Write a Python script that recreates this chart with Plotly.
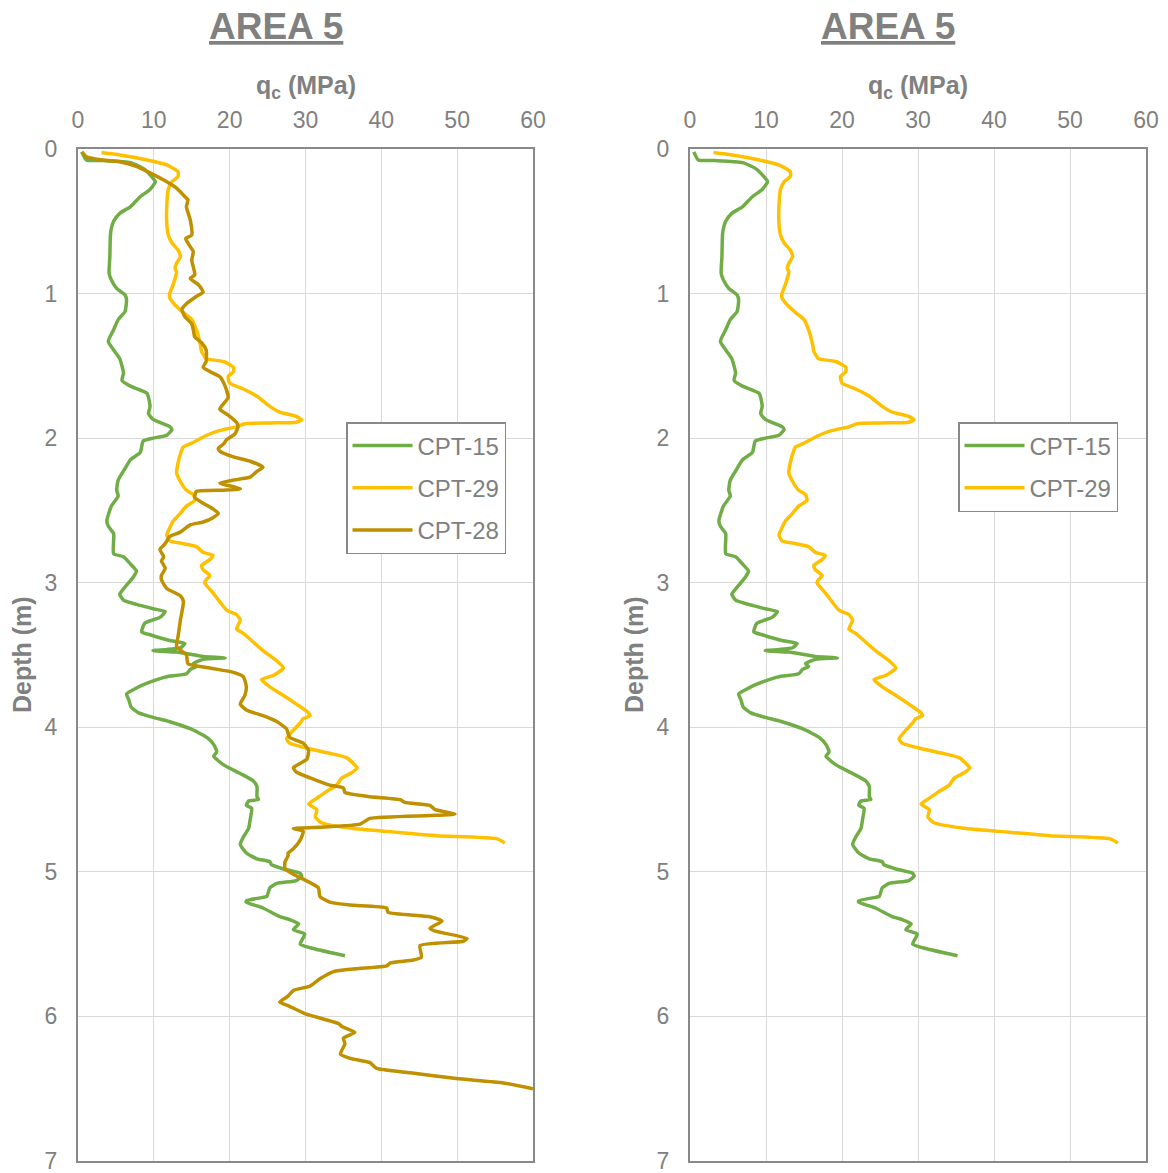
import plotly.graph_objects as go

# ---------------- data ----------------
cpt15_depth = [0.02, 0.076, 0.08, 0.094, 0.134, 0.19, 0.226, 0.28, 0.33, 0.40,
               0.445, 0.50, 0.58, 0.745, 0.86, 0.906, 0.964, 1.01, 1.045, 1.125,
               1.18, 1.25, 1.33, 1.39, 1.45, 1.55, 1.60, 1.64, 1.69, 1.78,
               1.83, 1.87, 1.92, 1.94, 1.98, 2.00, 2.02, 2.10, 2.15, 2.21,
               2.29, 2.36, 2.40, 2.47, 2.57, 2.61, 2.66, 2.80, 2.82, 2.87,
               2.92, 2.96, 3.03, 3.08, 3.12, 3.15, 3.18, 3.20, 3.24, 3.28,
               3.34, 3.36, 3.40, 3.42, 3.45, 3.47, 3.48, 3.51, 3.52, 3.53,
               3.56, 3.58, 3.60, 3.63, 3.65, 3.67, 3.71, 3.74, 3.77, 3.81,
               3.86, 3.90, 3.93, 3.96, 4.01, 4.07, 4.12, 4.17, 4.20, 4.26,
               4.32, 4.37, 4.41, 4.48, 4.50, 4.51, 4.54, 4.56, 4.64, 4.70,
               4.76, 4.81, 4.87, 4.91, 4.93, 4.95, 4.98, 5.01, 5.03, 5.06,
               5.08, 5.11, 5.17, 5.18, 5.20, 5.21, 5.25, 5.31, 5.33, 5.36,
               5.40, 5.43, 5.50, 5.53, 5.58]
cpt15_qc = [0.5, 1.1, 3.3, 6.9, 8.6, 9.7, 10.2, 9.5, 8.2, 6.9,
            5.5, 4.7, 4.3, 4.2, 4.1, 4.4, 5.1, 6.2, 6.4, 6.2,
            5.3, 4.7, 4.0, 4.7, 5.5, 6.0, 5.8, 6.9, 9.1, 9.5,
            9.3, 9.9, 12.1, 12.4, 11.7, 9.9, 8.6, 8.2, 6.9, 6.2,
            5.3, 5.1, 5.3, 4.4, 3.8, 4.0, 4.7, 4.7, 6.0, 6.9,
            7.7, 7.3, 6.2, 5.5, 6.0, 7.7, 9.9, 11.5, 10.8, 8.8,
            8.4, 9.5, 12.1, 14.1, 13.5, 9.9, 13.0, 16.5, 19.4, 16.5,
            15.2, 15.6, 14.8, 14.3, 11.7, 10.4, 8.4, 7.3, 6.4, 6.7,
            7.0, 8.0, 9.8, 12.0, 14.8, 17.0, 17.9, 18.3, 17.9, 19.2,
            21.4, 23.1, 23.6, 23.6, 23.8, 22.5, 22.2, 22.9, 22.7, 22.5,
            21.8, 21.4, 22.2, 23.6, 25.3, 25.5, 27.1, 29.3, 29.5, 28.8,
            26.2, 25.3, 24.9, 24.0, 22.2, 22.2, 24.4, 26.6, 27.9, 29.1,
            28.4, 29.9, 29.3, 31.0, 35.2]

cpt29_depth = [0.025, 0.042, 0.076, 0.11, 0.157, 0.19, 0.226, 0.28, 0.40, 0.51,
               0.595, 0.65, 0.70, 0.745, 0.79, 0.825, 0.85, 0.93, 1.00, 1.03,
               1.09, 1.14, 1.18, 1.25, 1.345, 1.40, 1.45, 1.47, 1.51, 1.54,
               1.575, 1.62, 1.66, 1.71, 1.78, 1.82, 1.85, 1.875, 1.89, 1.895,
               1.90, 1.92, 1.95, 1.98, 2.04, 2.06, 2.11, 2.17, 2.24, 2.30,
               2.36, 2.39, 2.43, 2.47, 2.52, 2.57, 2.62, 2.67, 2.71, 2.73,
               2.75, 2.79, 2.81, 2.84, 2.88, 2.91, 2.95, 2.98, 3.00, 3.07,
               3.19, 3.22, 3.26, 3.32, 3.35, 3.41, 3.47, 3.54, 3.59, 3.64,
               3.67, 3.72, 3.78, 3.84, 3.90, 3.92, 3.94, 3.97, 4.02, 4.08,
               4.11, 4.15, 4.18, 4.21, 4.25, 4.28, 4.32, 4.35, 4.40, 4.45,
               4.49, 4.53, 4.57, 4.62, 4.66, 4.70, 4.72, 4.75, 4.77, 4.80]
cpt29_qc = [3.1, 5.5, 9.1, 11.7, 13.2, 13.2, 12.4, 11.9, 11.7, 11.7,
            11.9, 12.4, 13.2, 13.5, 13.0, 12.8, 13.0, 12.6, 12.1, 12.1,
            13.0, 14.1, 15.0, 15.6, 16.1, 16.3, 16.9, 19.2, 20.5, 20.5,
            19.8, 20.0, 21.8, 23.6, 25.3, 26.6, 28.8, 29.5, 28.8, 25.3,
            22.0, 21.0, 18.5, 17.0, 14.8, 13.9, 13.5, 13.2, 13.0, 13.5,
            14.3, 15.2, 15.4, 14.3, 13.5, 12.6, 12.1, 11.7, 12.1, 13.9,
            15.6, 16.5, 17.8, 17.4, 16.3, 16.5, 17.4, 16.9, 16.7, 17.8,
            19.6, 20.9, 21.4, 20.9, 21.8, 23.1, 24.4, 26.2, 27.1, 25.8,
            24.2, 25.3, 27.1, 28.8, 30.4, 30.6, 29.7, 29.3, 28.4, 27.5,
            27.9, 30.6, 33.2, 35.4, 36.3, 36.8, 35.9, 34.8, 34.1, 32.6,
            31.5, 30.4, 31.5, 31.3, 32.1, 36.3, 40.7, 47.3, 55.2, 56.3]

cpt28_depth = [0.02, 0.053, 0.076, 0.088, 0.12, 0.17, 0.226, 0.27, 0.33, 0.35,
               0.40, 0.49, 0.595, 0.62, 0.675, 0.71, 0.77, 0.87, 0.895, 0.94,
               0.99, 1.02, 1.07, 1.11, 1.16, 1.21, 1.25, 1.30, 1.34, 1.39,
               1.47, 1.51, 1.54, 1.575, 1.64, 1.72, 1.78, 1.80, 1.84, 1.89,
               1.92, 1.97, 2.01, 2.04, 2.07, 2.09, 2.13, 2.16, 2.20, 2.23,
               2.27, 2.29, 2.31, 2.32, 2.35, 2.36, 2.37, 2.41, 2.45, 2.49,
               2.52, 2.55, 2.58, 2.60, 2.65, 2.68, 2.73, 2.77, 2.82, 2.85,
               2.90, 2.95, 2.98, 3.04, 3.09, 3.13, 3.26, 3.37, 3.44, 3.50,
               3.56, 3.59, 3.62, 3.65, 3.72, 3.78, 3.84, 3.88, 3.92, 3.96,
               4.01, 4.04, 4.07, 4.11, 4.16, 4.22, 4.25, 4.28, 4.31, 4.35,
               4.40, 4.42, 4.45, 4.48, 4.50, 4.52, 4.54, 4.57, 4.60, 4.61,
               4.63, 4.67, 4.69, 4.70, 4.72, 4.78, 4.84, 4.87, 4.89, 4.93,
               4.98, 5.02, 5.05, 5.11, 5.17, 5.21, 5.23, 5.25, 5.28, 5.31,
               5.34, 5.39, 5.41, 5.46, 5.48, 5.51, 5.59, 5.61, 5.63, 5.65,
               5.67, 5.69, 5.74, 5.79, 5.82, 5.86, 5.90, 5.93, 5.98, 6.05,
               6.07, 6.11, 6.15, 6.19, 6.26, 6.29, 6.32, 6.36, 6.39, 6.43,
               6.46, 6.50]
cpt28_qc = [0.5, 1.1, 3.3, 5.5, 7.7, 9.7, 11.7, 13.0, 14.1, 14.5,
            14.3, 14.8, 15.0, 14.2, 14.8, 15.2, 15.0, 15.4, 14.8, 15.9,
            16.5, 15.6, 14.3, 13.7, 14.1, 15.0, 15.2, 15.4, 16.3, 16.9,
            16.9, 16.5, 17.4, 18.7, 19.4, 19.8, 18.9, 18.7, 19.8, 20.9,
            21.1, 20.7, 19.6, 19.2, 18.5, 18.7, 20.5, 22.7, 24.4, 23.6,
            22.7, 20.5, 18.7, 19.2, 21.4, 19.2, 15.6, 15.4, 16.5, 17.8,
            18.5, 17.8, 16.5, 14.8, 13.5, 12.1, 11.5, 10.8, 11.3, 11.0,
            11.5, 11.0, 11.0, 11.7, 13.5, 13.9, 13.5, 13.2, 13.0, 14.3,
            14.5, 17.4, 20.5, 21.8, 22.2, 22.0, 21.4, 22.2, 24.4, 26.2,
            27.5, 27.7, 27.9, 29.7, 30.4, 30.2, 29.3, 28.4, 28.8, 30.6,
            33.2, 35.0, 35.2, 38.5, 42.5, 43.1, 46.4, 47.1, 49.7, 46.4,
            38.5, 37.2, 32.4, 28.4, 29.7, 29.3, 28.4, 27.7, 27.7, 27.3,
            27.3, 28.5, 29.7, 31.7, 31.9, 33.2, 35.9, 40.7, 40.9, 46.4,
            48.0, 46.4, 47.1, 51.3, 50.8, 45.1, 45.3, 44.2, 41.2, 40.7,
            36.7, 33.7, 31.9, 30.6, 28.4, 27.7, 26.6, 27.9, 29.9, 34.4,
            34.8, 36.5, 35.0, 35.2, 34.6, 35.9, 38.5, 39.4, 43.8, 49.9,
            56.1, 60.0]

x_ticks = [0, 10, 20, 30, 40, 50, 60]
y_ticks = [0, 1, 2, 3, 4, 5, 6, 7]
chart_title = "AREA 5"
x_title = "q<sub>c</sub> (MPa)"
y_title = "Depth (m)"

# ---------------- style ----------------
OFF = 8                      # page body margin of the html page
W, H = 1160, 1165
GREEN, YELLOW, BROWN = "#70AD47", "#FFC000", "#BF9000"
GRAY = "#808080"
AXIS = "#898989"
GRID = "#d9d9d9"
FONT = "Liberation Sans, Arial, sans-serif"

left_px = (78, 533)
right_px = (690, 1146)
top_px, bot_px = 149, 1161
title_cx = (276, 888)

def fx(px):
    return (px - OFF) / W

def fy(py):
    return 1 - (py - OFF) / H

fig = go.Figure()

def add(x, y, name, color, xa, ya, legend):
    fig.add_trace(go.Scatter(
        x=x, y=y, mode="lines", name=name, xaxis=xa, yaxis=ya,
        line=dict(color=color, width=3.5, shape="spline", smoothing=0.5),
        legend=legend, legendgroup=legend + name, showlegend=True,
    ))

add(cpt15_qc, cpt15_depth, "CPT-15", GREEN, "x", "y", "legend")
add(cpt29_qc, cpt29_depth, "CPT-29", YELLOW, "x", "y", "legend")
add(cpt28_qc, cpt28_depth, "CPT-28", BROWN, "x", "y", "legend")
add(cpt15_qc, cpt15_depth, "CPT-15", GREEN, "x2", "y2", "legend2")
add(cpt29_qc, cpt29_depth, "CPT-29", YELLOW, "x2", "y2", "legend2")

xcommon = dict(
    side="top", range=[0, 60], tickvals=x_ticks, showgrid=True, gridcolor=GRID,
    gridwidth=1, showline=True, linecolor=AXIS, linewidth=2, mirror=True,
    zeroline=False, ticks="", tickfont=dict(family=FONT, size=23, color=GRAY),
    ticklabelstandoff=10, automargin=False, ticklabeloverflow="allow",
)
ycommon = dict(
    range=[7, 0], tickvals=y_ticks, showgrid=True, gridcolor=GRID, gridwidth=1,
    showline=True, linecolor=AXIS, linewidth=2, mirror=True, zeroline=False,
    ticks="", tickfont=dict(family=FONT, size=23, color=GRAY),
    ticklabelstandoff=14, automargin=False, ticklabeloverflow="allow",
)

legend_common = dict(
    xanchor="left", yanchor="top",
    bgcolor="white", bordercolor=AXIS, borderwidth=1.5,
    font=dict(family=FONT, size=24, color=GRAY),
    traceorder="grouped", tracegroupgap=8, itemwidth=60,
)

ydom = [fy(bot_px), fy(top_px)]
fig.update_layout(
    width=W, height=H,
    margin=dict(l=0, r=0, t=0, b=0),
    paper_bgcolor="white", plot_bgcolor="white",
    font=dict(family=FONT, color=GRAY),
    xaxis=dict(domain=[fx(left_px[0]), fx(left_px[1])], anchor="y", **xcommon),
    yaxis=dict(domain=ydom, anchor="x", **ycommon),
    xaxis2=dict(domain=[fx(right_px[0]), fx(right_px[1])], anchor="y2", **xcommon),
    yaxis2=dict(domain=ydom, anchor="x2", **ycommon),
    legend=dict(x=fx(346), y=fy(422), **legend_common),
    legend2=dict(x=fx(958), y=fy(422), **legend_common),
)

annotations = []
for (x0, x1), tcx in zip((left_px, right_px), title_cx):
    cx = fx((x0 + x1) / 2)
    annotations.append(dict(
        text="<b><u>" + chart_title + "</u></b>", x=fx(tcx), y=fy(27),
        xref="paper", yref="paper", xanchor="center", yanchor="middle",
        showarrow=False, font=dict(family=FONT, size=37, color=GRAY),
    ))
    annotations.append(dict(
        text="<b>" + x_title + "</b>", x=cx, y=fy(87),
        xref="paper", yref="paper", xanchor="center", yanchor="middle",
        showarrow=False, font=dict(family=FONT, size=25, color=GRAY),
    ))
    annotations.append(dict(
        text="<b>" + y_title + "</b>", x=fx(x0 - 56), y=fy((top_px + bot_px) / 2),
        xref="paper", yref="paper", xanchor="center", yanchor="middle",
        textangle=-90, showarrow=False,
        font=dict(family=FONT, size=25, color=GRAY),
    ))
fig.update_layout(annotations=annotations)

fig.write_html("out.html")
